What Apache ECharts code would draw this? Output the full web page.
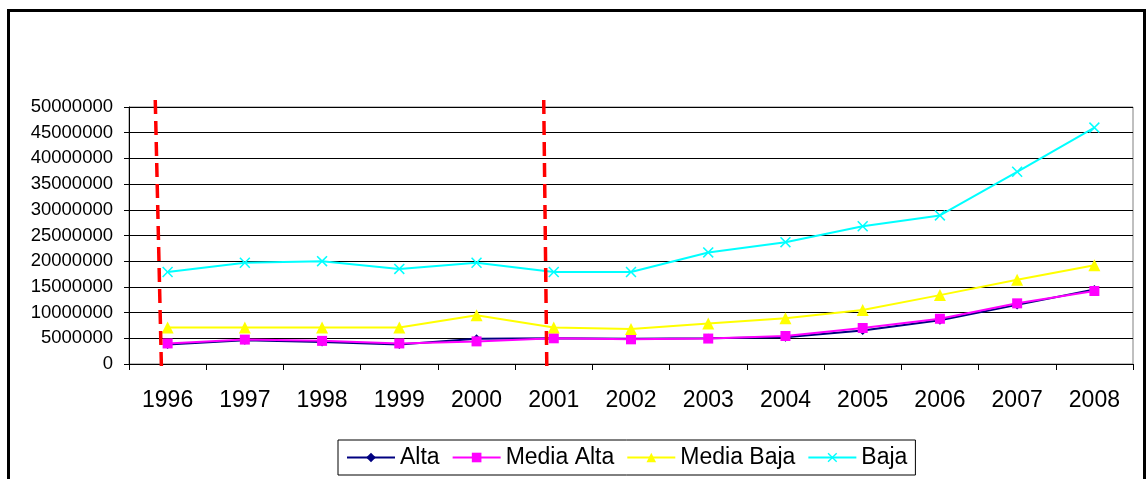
<!DOCTYPE html>
<html>
<head>
<meta charset="utf-8">
<script src="https://cdn.jsdelivr.net/npm/echarts@6/dist/echarts.min.js"></script>
<style>
  html, body { margin: 0; padding: 0; background: #fff; overflow: hidden; }
  #frame { position: absolute; left: 7px; top: 9px; width: 1139px; height: 520px; border: 3px solid #000; box-sizing: border-box; }
  #chart { position: absolute; left: 0; top: 0; width: 1147px; height: 479px; }
</style>
</head>
<body>
<div id="frame"></div>
<div id="chart"></div>
<script>
// years on the x axis
var years = ['1996', '1997', '1998', '1999', '2000', '2001', '2002', '2003', '2004', '2005', '2006', '2007', '2008']

// series values
var alta = [3800000, 4600000, 4300000, 3800000, 4900000, 5000000, 4900000, 5000000, 5200000, 6500000, 8500000, 11500000, 14500000]
var mediaAlta = [4000000, 4750000, 4500000, 4000000, 4400000, 5000000, 4800000, 4950000, 5450000, 7000000, 8800000, 11800000, 14200000]
var mediaBaja = [7100000, 7100000, 7100000, 7100000, 9500000, 7100000, 6800000, 7900000, 8900000, 10500000, 13400000, 16400000, 19200000]
var baja = [17900000, 19700000, 20000000, 18500000, 19700000, 17900000, 17900000, 21700000, 23700000, 26800000, 28900000, 37400000, 46000000]

// red dashed markers, position in category units (top, bottom)
var redLines = [[0.34, 0.42], [5.37, 5.41]]

var font = 'Liberation Sans, Arial, sans-serif'
var xMark = 'path://M0,1L1,0L5,4L9,0L10,1L6,5L10,9L9,10L5,6L1,10L0,9L4,5Z'

var myChart = echarts.init(document.getElementById('chart'))

function lineSeries(name, data, color, symbol, size) {
  return {
    name: name,
    type: 'line',
    data: data,
    symbol: symbol,
    symbolSize: size,
    showSymbol: true,
    color: color,
    lineStyle: { color: color, width: 2 },
    itemStyle: { color: color },
    animation: false,
  }
}

var series = [
  lineSeries('Alta', alta, '#000080', 'diamond', 9),
  lineSeries('Media Alta', mediaAlta, '#FF00FF', 'rect', 10),
  lineSeries('Media Baja', mediaBaja, '#FFFF00', 'triangle', 12),
  lineSeries('Baja', baja, '#00FFFF', xMark, 11),
]

redLines.forEach(function (r) {
  series.push({
    type: 'line',
    xAxisIndex: 1,
    yAxisIndex: 1,
    data: [[r[0], 1], [r[1], 0]],
    symbol: 'none',
    silent: true,
    animation: false,
    lineStyle: { color: '#FF0000', width: 3.5, type: [14, 7] },
    z: 5,
  })
})

var option = {
  backgroundColor: 'transparent',
  textStyle: { fontFamily: font },
  grid: [
    { left: 129, right: 14, top: 107, bottom: 115, show: true, borderColor: '#808080', borderWidth: 1 },
    { left: 129, right: 14, top: 100, bottom: 111 }, // overlay for the red markers
  ],
  legend: {
    data: ['Alta', 'Media Alta', 'Media Baja', 'Baja'],
    left: 338,
    top: 440,
    padding: [6, 8, 6, 8],
    itemGap: 12,
    itemWidth: 48,
    itemHeight: 12,
    borderColor: '#000',
    borderWidth: 1,
    textStyle: { fontSize: 23, color: '#000', fontFamily: font },
  },
  xAxis: [
    {
      type: 'category',
      data: years,
      boundaryGap: true,
      axisLine: { lineStyle: { color: '#000', width: 1 } },
      axisTick: { show: true, length: 6, interval: 0, lineStyle: { color: '#000' } },
      axisLabel: { fontSize: 23, color: '#000', margin: 25, interval: 0, fontFamily: font },
      splitLine: { show: false },
    },
    { type: 'value', gridIndex: 1, min: 0, max: 13, show: false },
  ],
  yAxis: [
    {
      type: 'value',
      min: 0,
      max: 50000000,
      interval: 5000000,
      axisLine: { show: true, lineStyle: { color: '#000', width: 1 } },
      axisTick: { show: true, length: 5, lineStyle: { color: '#000' } },
      axisLabel: {
        fontSize: 18.5,
        color: '#000',
        margin: 16,
        fontFamily: font,
        formatter: function (v) { return String(v) },
      },
      splitLine: { show: true, lineStyle: { color: '#000', width: 1 } },
    },
    { type: 'value', gridIndex: 1, min: 0, max: 1, show: false },
  ],
  series: series,
}

option && myChart.setOption(option)
</script>
</body>
</html>
